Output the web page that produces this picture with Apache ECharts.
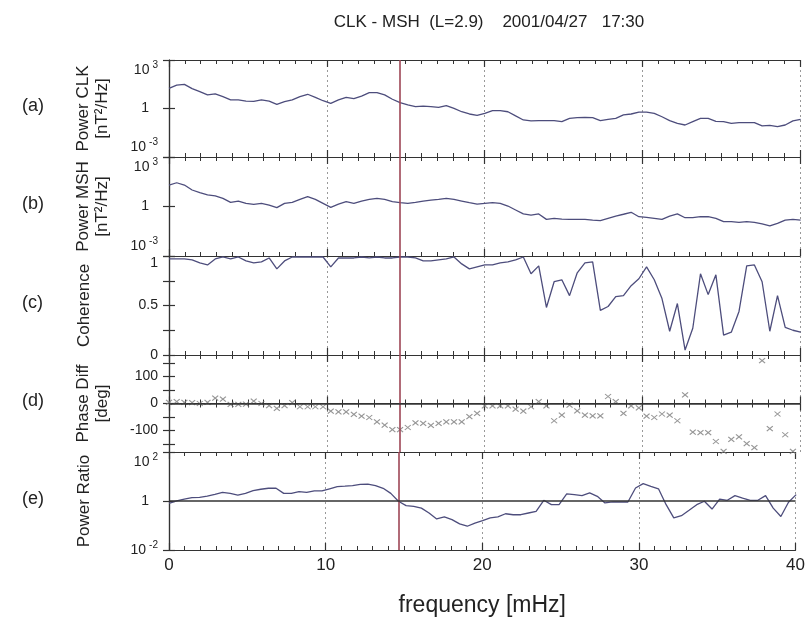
<!DOCTYPE html>
<html><head><meta charset="utf-8">
<script src="https://cdn.jsdelivr.net/npm/echarts@6/dist/echarts.min.js"></script>
<style>html,body{margin:0;padding:0;background:#fff}#c{width:808px;height:619px}</style>
</head><body><div id="c"></div>
<script>
// frequency step (mHz) of the spectra
const df = 0.48828;
const markerFreq = 14.65;
const panelLetters = ['(a)', '(b)', '(c)', '(d)', '(e)'];
const phaseTickLabels = [-100, 0, 100];
const phaseTicks = [-150, -100, -50, 0, 50, 100, 150];

const powerCLK = [17.8, 28.2, 30.9, 17.0, 11.0, 6.92, 7.94, 5.37, 3.39, 3.39,
  2.88, 2.75, 3.39, 2.88, 1.82, 2.63, 3.39, 5.37, 7.59, 4.90,
  3.02, 2.09, 3.39, 4.90, 4.07, 5.89, 9.55, 9.55, 6.92, 3.72,
  2.29, 1.66, 1.29, 1.41, 1.29, 1.17, 1.51, 1.02, 0.631, 0.457,
  0.380, 0.501, 0.741, 0.741, 0.631, 0.347, 0.195, 0.170, 0.178, 0.178,
  0.178, 0.155, 0.245, 0.269, 0.282, 0.269, 0.178, 0.214, 0.245, 0.398,
  0.457, 0.603, 0.603, 0.501, 0.309, 0.178, 0.120, 0.0955, 0.155, 0.245,
  0.245, 0.162, 0.155, 0.120, 0.132, 0.132, 0.132, 0.0832, 0.0912, 0.0759,
  0.0955, 0.170, 0.214];

const powerMSH = [20.0, 27.5, 20.0, 10.0, 6.92, 5.01, 4.37, 3.09, 1.78, 2.14,
  1.55, 1.35, 1.55, 1.23, 0.851, 1.55, 1.78, 2.69, 3.98, 2.69,
  1.55, 0.891, 1.41, 1.95, 1.55, 2.14, 2.69, 3.09, 2.69, 1.95,
  1.70, 1.55, 1.78, 2.14, 2.45, 2.69, 3.09, 2.69, 2.14, 1.70,
  1.41, 1.55, 1.70, 1.55, 1.07, 0.617, 0.355, 0.302, 0.355, 0.166,
  0.191, 0.174, 0.166, 0.166, 0.166, 0.151, 0.138, 0.191, 0.263, 0.339,
  0.447, 0.240, 0.219, 0.191, 0.166, 0.263, 0.355, 0.209, 0.209, 0.240,
  0.240, 0.191, 0.120, 0.120, 0.110, 0.120, 0.110, 0.0871, 0.0661, 0.0955,
  0.151, 0.166, 0.151];

const coherence = [0.97, 0.97, 0.97, 0.96, 0.93, 0.91, 0.97, 0.99, 0.97, 0.99,
  0.95, 0.93, 0.94, 0.98, 0.87, 0.95, 0.99, 0.99, 0.99, 0.99,
  0.99, 0.89, 0.98, 0.98, 0.98, 0.99, 0.98, 0.99, 0.98, 0.98,
  0.99, 0.99, 0.98, 0.95, 0.95, 0.96, 0.97, 0.99, 0.92, 0.87,
  0.89, 0.91, 0.91, 0.93, 0.94, 0.96, 0.99, 0.82, 0.90, 0.48,
  0.74, 0.76, 0.60, 0.83, 0.93, 0.94, 0.45, 0.49, 0.59, 0.60,
  0.70, 0.77, 0.89, 0.76, 0.57, 0.24, 0.52, 0.05, 0.27, 0.82,
  0.61, 0.81, 0.20, 0.23, 0.44, 0.90, 0.91, 0.74, 0.24, 0.60,
  0.28, 0.25, 0.23];

const phaseDiff = [4, 7, 4, 3, 0, 4, 20, 16, -3, -3,
  -2, 9, 0, -8, -18, -8, 3, -12, -12, -12,
  -12, -28, -31, -31, -40, -47, -52, -68, -80, -97,
  -97, -89, -72, -74, -81, -74, -68, -68, -68, -49,
  -37, -9, -9, -9, -9, -21, -28, -12, 7, -9,
  -64, -43, -6, -27, -43, -46, -46, 26, 7, -37,
  -9, -16, -47, -52, -39, -43, -64, 32, -106, -108,
  -108, -141, -178, -133, -124, -149, -164, 159, -93, -39,
  -116, -178];

const powerRatio = [0.794, 1.02, 1.20, 1.38, 1.41, 1.58, 1.86, 2.24, 2.04, 1.74,
  2.04, 2.63, 3.02, 3.31, 3.31, 2.04, 2.04, 2.40, 2.24, 2.57,
  2.57, 3.16, 3.89, 4.07, 4.27, 4.79, 4.90, 4.27, 3.31, 2.04,
  0.977, 0.646, 0.603, 0.513, 0.324, 0.186, 0.224, 0.174, 0.117, 0.0933,
  0.126, 0.158, 0.204, 0.224, 0.302, 0.275, 0.275, 0.324, 0.380, 1.07,
  0.708, 0.708, 1.95, 1.82, 1.66, 2.14, 1.55, 0.832, 0.912, 0.912,
  0.912, 3.39, 5.13, 3.98, 3.16, 0.708, 0.204, 0.251, 0.417, 0.708,
  0.977, 0.468, 1.20, 1.07, 1.66, 1.32, 1.07, 1.07, 1.66, 0.513,
  0.234, 0.891, 1.82];

const FONT = '"Liberation Sans", Arial, sans-serif';
const LINE_COLOR = '#4d4d7c';
const AXIS_COLOR = '#333';
const RED = '#9e4656';

const toXY = arr => arr.map((v, i) => [i * df, v]);

const grids = [
  { top: 60, height: 97 },
  { top: 157, height: 99 },
  { top: 256, height: 99 },
  { top: 355, height: 97 },
  { top: 452, height: 98 }
].map(g => Object.assign({ left: 169, width: 631, containLabel: false }, g));

const rich = {
  n: { fontSize: 14, fontFamily: FONT, color: '#222' },
  s: { fontSize: 10, fontFamily: FONT, color: '#222', padding: [0, 0, 10, 3] },
  one: { fontSize: 14, fontFamily: FONT, color: '#222', padding: [0, 9, 0, 0] }
};
function logLabel(v) {
  const e = Math.round(Math.log10(v));
  if (e === 0) return '{one|1}';
  return '{n|10}{s|' + e + '}';
}

const xAxes = [];
for (let i = 0; i < 5; i++) {
  for (const pos of ['bottom', 'top']) {
    xAxes.push({
      type: 'value', gridIndex: i, position: pos, min: 0, max: 40, interval: 10,
      axisLine: { show: true, lineStyle: { color: AXIS_COLOR, width: 1.2 } },
      axisTick: { show: true, inside: true, length: 7, lineStyle: { color: AXIS_COLOR, width: 1.2 } },
      minorTick: { show: true, splitNumber: 10, length: 4, lineStyle: { color: AXIS_COLOR, width: 1 } },
      splitLine: { show: pos === 'bottom', lineStyle: { color: '#999', type: [2, 3], width: 1 } },
      axisLabel: { show: pos === 'bottom' && i === 4, fontSize: 17, fontFamily: FONT, color: '#222', margin: 7 },
      name: (pos === 'bottom' && i === 4) ? 'frequency [mHz]' : '',
      nameLocation: 'middle', nameGap: 44,
      nameTextStyle: { fontSize: 23, fontFamily: FONT, color: '#222' }
    });
  }
}

function yBase(i, pos) {
  return {
    gridIndex: i, position: pos,
    axisLine: { show: true, lineStyle: { color: AXIS_COLOR, width: 1.2 } },
    axisTick: { show: true, inside: true, length: 6, lineStyle: { color: AXIS_COLOR, width: 1.2 } },
    splitLine: { show: false },
    axisLabel: { show: pos === 'left', fontSize: 14, fontFamily: FONT, color: '#222', margin: 11, rich: rich },
    nameLocation: 'middle', nameRotate: 90,
    nameTextStyle: { fontSize: 17, fontFamily: FONT, color: '#222', lineHeight: 19 }
  };
}
const yNames = ['Power CLK\n[nT\u00B2/Hz]', 'Power MSH\n[nT\u00B2/Hz]', 'Coherence', 'Phase Diff\n[deg]', 'Power Ratio'];
const yGaps = [57, 57, 75, 57, 75];
const yAxes = [];
for (const pos of ['left', 'right']) {
  for (let i = 0; i < 5; i++) {
    const a = yBase(i, pos);
    if (pos === 'left') { a.name = yNames[i]; a.nameGap = yGaps[i]; }
    if (i < 2) {
      Object.assign(a, { type: 'log', logBase: 1000, min: 0.001, max: 1000 });
      a.axisLabel.formatter = logLabel;
      a.axisLabel.verticalAlignMaxLabel = 'top';
      a.axisLabel.verticalAlignMinLabel = 'bottom';
    } else if (i === 2) {
      Object.assign(a, { type: 'value', min: 0, max: 1, interval: 0.25 });
      a.axisLabel.formatter = v => (Math.abs(v * 2 - Math.round(v * 2)) < 1e-6) ? String(v) : '';
      a.axisLabel.verticalAlignMaxLabel = 'top';
    } else if (i === 3) {
      Object.assign(a, { type: 'value', min: -180, max: 180 });
      a.axisTick.customValues = phaseTicks;
      a.axisLabel.customValues = phaseTickLabels;
    } else {
      Object.assign(a, { type: 'log', logBase: 100, min: 0.01, max: 100 });
      a.axisLabel.formatter = logLabel;
      a.axisLabel.verticalAlignMaxLabel = 'top';
    }
    yAxes.push(a);
  }
}

function redMark(extra) {
  return {
    silent: true, symbol: 'none', label: { show: false },
    data: [{ xAxis: markerFreq, lineStyle: { color: RED, width: 1.6, type: 'solid' } }].concat(extra || [])
  };
}
const hLine = v => ({ yAxis: v, lineStyle: { color: '#333', width: 1.6, type: 'solid' } });

const lineSeries = (data, gi, mark) => ({
  type: 'line', xAxisIndex: gi * 2, yAxisIndex: gi, data: toXY(data),
  showSymbol: false, symbol: 'none', animation: false,
  lineStyle: { color: LINE_COLOR, width: 1.3 }, z: 3,
  markLine: mark
});

const series = [
  lineSeries(powerCLK, 0, redMark()),
  lineSeries(powerMSH, 1, redMark()),
  lineSeries(coherence, 2, redMark()),
  {
    type: 'scatter', xAxisIndex: 6, yAxisIndex: 3, data: toXY(phaseDiff),
    symbol: 'path://M0 0L10 10M0 10L10 0', symbolSize: [6, 5], animation: false,
    itemStyle: { color: 'rgba(0,0,0,0)', borderColor: '#7a7a7a', borderWidth: 1.1 },
    markLine: redMark([hLine(0)])
  },
  lineSeries(powerRatio, 4, redMark([hLine(1)]))
];

const graphics = panelLetters.map((t, i) => ({
  type: 'text', left: 22, top: grids[i].top + grids[i].height / 2 - 11,
  style: { text: t, font: '18px ' + FONT, fill: '#222' }
}));

const chart = echarts.init(document.getElementById('c'), null, { renderer: 'canvas' });
chart.setOption({
  backgroundColor: '#fff',
  animation: false,
  title: {
    text: 'CLK - MSH  (L=2.9)    2001/04/27   17:30',
    left: 484, top: 9, textAlign: 'center',
    textStyle: { fontSize: 17, fontWeight: 'normal', fontFamily: FONT, color: '#222' }
  },
  grid: grids,
  xAxis: xAxes,
  yAxis: yAxes,
  series: series,
  graphic: graphics
});
</script></body></html>
